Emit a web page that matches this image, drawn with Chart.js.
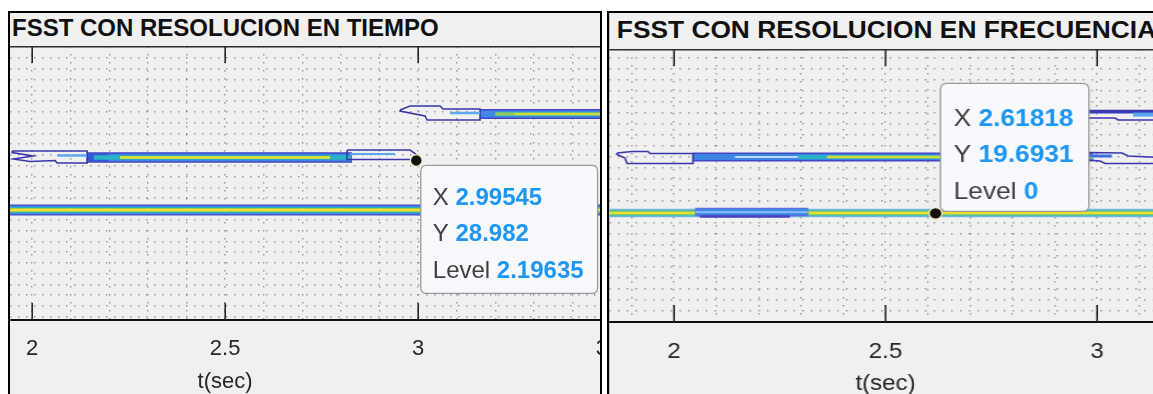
<!DOCTYPE html>
<html>
<head>
<meta charset="utf-8">
<script src="https://cdn.jsdelivr.net/npm/chart.js@4.4.1/dist/chart.umd.min.js"></script>
<style>
  html, body { margin: 0; padding: 0; background: #fff; width: 1153px; height: 394px; overflow: hidden; }
  .panel { position: absolute; background: #f0f0f0; overflow: hidden; }
  #pL { left: 8px; top: 11px; width: 590px; height: 400px; border: 2px solid #000; border-bottom: none; }
  #pR { left: 607px; top: 11px; width: 520px; height: 400px; border-left: 2px solid #000; border-top: 2px solid #000;
        transform: scaleX(1.096); transform-origin: 0 0; }
  .ttl { position: absolute; font: bold 24px/24px 'Liberation Sans', Arial, sans-serif; color: #111; white-space: nowrap; }
  canvas { position: absolute; left: 0; }
</style>
</head>
<body>
<div class="panel" id="pL">
  <div class="ttl" style="left:2px;top:3px">FSST CON RESOLUCION EN TIEMPO</div>
  <canvas id="cL" width="700" height="382" style="top:0"></canvas>
</div>
<div class="panel" id="pR">
  <div class="ttl" style="left:7px;top:5px">FSST CON RESOLUCION EN FRECUENCIA</div>
  <canvas id="cR" width="520" height="383" style="top:1px"></canvas>
</div>
<script>
// ---- axis ranges (t in seconds, f in Hz) ----
const rangeTL = [1.94301, 3.75650];
const rangeFL = [-0.6, 50.2];
const rangeTR = [1.84680, 3.19390];
const rangeFR = [0, 49.5];
const tickStepT = 0.1;
const tickStepF = 2;
const axisLabelT = 't(sec)';
const axisLabelAtT = 2.5;

// ---- left panel: ridges of the time-resolution FSST ----
const ridgeL20 = [[1.90, 19.80], [3.80, 19.80]];
const ridgeL29 = [[2.142, 29.53], [2.829, 29.53]];
const ridgeL29Head = [[2.142, 29.53], [2.197, 29.53]];
const ridgeL29Body = [[2.160, 29.53], [2.825, 29.53]];
const ridgeL29Peak = [[2.228, 29.53], [2.772, 29.53]];
const ridgeL29Fringe = [[2.065, 29.90], [2.142, 29.90]];
const ridgeL29Tail = [[2.824, 30.18], [2.940, 30.18]];
const ridgeL38 = [[3.161, 37.59], [3.80, 37.59]];
const ridgeL38Body = [[3.200, 37.59], [3.80, 37.59]];
const ridgeL38Peak = [[3.250, 37.59], [3.80, 37.59]];
const ridgeL38Fringe = [[3.083, 37.78], [3.161, 37.78]];
const contourL29Start = [[1.9482, 30.73], [2.1425, 30.73], [2.1425, 28.51], [2.0648, 28.51], [2.0596, 28.97],
                         [1.9948, 28.79], [1.9508, 29.25], [2.0026, 29.81], [1.9482, 30.46]];
const contourL29End = [[2.8161, 30.92], [2.9793, 30.92], [2.9974, 30.00], [2.9922, 28.88], [2.9793, 29.16], [2.8161, 29.16]];
const contourL38Start = [[2.9534, 38.34], [2.9793, 39.08], [3.0570, 39.08], [3.0648, 38.52], [3.1606, 38.52],
                         [3.1606, 36.48], [3.0233, 36.48], [3.0181, 37.22], [2.9534, 38.15]];
const tipL = { x: 2.99545, y: 28.982, level: 2.19635 };

// ---- right panel: ridges of the frequency-resolution FSST ----
const ridgeR20 = [[1.80, 19.76], [3.25, 19.76]];
const patchR20 = [[2.050, 19.94], [2.317, 19.94]];
const patchR20Low = [[2.061, 19.13], [2.274, 19.13]];
const ridgeR30 = [[2.045, 29.92], [2.990, 29.92]];
const ridgeR30Pale = [[2.144, 29.92], [2.293, 29.92]];
const ridgeR30Body = [[2.293, 29.92], [2.990, 29.92]];
const ridgeR30Peak = [[2.362, 29.92], [2.990, 29.92]];
const ridgeR30Tail = [[2.979, 30.10], [3.035, 30.10]];
const ridgeR38Top = [[2.9598, 38.08], [3.1489, 38.08]];
const ridgeR38Light = [[3.0850, 37.60], [3.1489, 37.60]];
const contourR30Start = [[1.8652, 30.64], [1.9007, 30.91], [1.9385, 30.91], [1.9433, 30.55], [2.0449, 30.55],
                         [2.0449, 28.74], [1.8889, 28.74], [1.8842, 29.74], [1.8652, 30.37]];
const contourR30End = [[2.9787, 30.73], [3.0591, 30.64], [3.0733, 30.10], [3.1489, 29.83],
                       [3.1489, 28.74], [3.0189, 28.74], [3.0071, 29.19], [2.9787, 29.37]];
const contourR38 = [[2.9598, 38.35], [3.1489, 38.35], [3.1489, 36.63], [3.0496, 36.63], [3.0426, 36.99], [2.9598, 36.99]];
const tipR = { x: 2.61818, y: 19.6931, level: 0 };

// ---- drawing helpers ----
const FONT = "'Liberation Sans', Arial, sans-serif";
const GRID = 'rgba(90,90,90,0.6)';
const OUTLINE = '#3a35a8';

function stroke(pts, color, width, closed) {
  const data = pts.map(p => ({ x: p[0], y: p[1] }));
  if (closed) data.push({ x: pts[0][0], y: pts[0][1] });
  return { data, borderColor: color, borderWidth: width, fill: false, pointRadius: 0, showLine: true,
           clip: 0, borderCapStyle: 'butt', borderJoinStyle: 'miter', tension: 0 };
}
function stack(list) {
  // list is bottom-to-top; higher order is painted first
  return list.map((d, i) => Object.assign(d, { order: list.length - i }));
}
const isMajor = v => Math.abs(v * 2 - Math.round(v * 2)) < 1e-6;
const fmt = v => String(Number(Number(v).toPrecision(6)));

const decor = {
  id: 'decor',
  afterDatasetsDraw(chart, args, o) {
    const { ctx, chartArea: a, scales: { x, y } } = chart;
    ctx.save();
    // axes box
    ctx.strokeStyle = '#2e2e2e'; ctx.lineWidth = 1.5;
    ctx.beginPath(); ctx.moveTo(a.left, a.top + 0.75); ctx.lineTo(a.right, a.top + 0.75); ctx.stroke();
    ctx.strokeStyle = '#111'; ctx.lineWidth = 2;
    ctx.beginPath(); ctx.moveTo(a.left, a.bottom); ctx.lineTo(a.right, a.bottom); ctx.stroke();
    // inward tick marks on the labelled ticks
    ctx.strokeStyle = '#262626'; ctx.lineWidth = 1.6;
    x.ticks.forEach(t => {
      if (!isMajor(t.value)) return;
      const px = Math.round(x.getPixelForValue(t.value)) + 0.2;
      ctx.beginPath();
      ctx.moveTo(px, a.top); ctx.lineTo(px, a.top + 17);
      ctx.moveTo(px, a.bottom - 17); ctx.lineTo(px, a.bottom);
      ctx.stroke();
    });
    // x-axis title, centred under the visible part of the time axis
    ctx.font = '22px ' + FONT; ctx.fillStyle = '#262626';
    ctx.textAlign = 'center'; ctx.textBaseline = 'middle';
    ctx.fillText(o.axisLabel, x.getPixelForValue(o.axisLabelAt), a.bottom + 62);
    // data tip
    const tip = o.tip;
    if (tip) {
      const px = x.getPixelForValue(tip.x), py = y.getPixelForValue(tip.y);
      const rows = [['X', fmt(tip.x)], ['Y', fmt(tip.y)], ['Level', fmt(tip.level)]];
      const reg = '24px ' + FONT, bold = 'bold 24px ' + FONT;
      ctx.font = reg; const sp = ctx.measureText(' ').width;
      let wmax = 0;
      const widths = rows.map(r => {
        ctx.font = reg; const wl = ctx.measureText(r[0]).width;
        ctx.font = bold; const wv = ctx.measureText(r[1]).width;
        wmax = Math.max(wmax, wl + sp + wv);
        return wl;
      });
      const w = wmax + 26, h = 128;
      const bx = px + 4.5, by = o.above ? py - 2 - h : py + 5;
      const r = 6;
      ctx.beginPath();
      ctx.moveTo(bx + r, by); ctx.lineTo(bx + w - r, by); ctx.quadraticCurveTo(bx + w, by, bx + w, by + r);
      ctx.lineTo(bx + w, by + h - r); ctx.quadraticCurveTo(bx + w, by + h, bx + w - r, by + h);
      ctx.lineTo(bx + r, by + h); ctx.quadraticCurveTo(bx, by + h, bx, by + h - r);
      ctx.lineTo(bx, by + r); ctx.quadraticCurveTo(bx, by, bx + r, by);
      ctx.closePath();
      ctx.fillStyle = '#f8f9fd'; ctx.fill();
      ctx.strokeStyle = '#9a9a9a'; ctx.lineWidth = 1.3; ctx.stroke();
      ctx.textBaseline = 'middle'; ctx.textAlign = 'left';
      const first = o.above ? 36 : 33;
      rows.forEach((row, i) => {
        const ty = by + first + i * 36.3;
        ctx.font = reg; ctx.fillStyle = '#404040'; ctx.fillText(row[0], bx + 12, ty);
        ctx.font = bold; ctx.fillStyle = '#1e96f3'; ctx.fillText(row[1], bx + 12 + widths[i] + sp, ty);
      });
      // marker
      ctx.beginPath(); ctx.arc(px, py, 6.5, 0, Math.PI * 2);
      ctx.fillStyle = '#f3edc0'; ctx.fill();
      ctx.beginPath(); ctx.arc(px, py, 5.2, 0, Math.PI * 2);
      ctx.fillStyle = '#111'; ctx.fill();
    }
    ctx.restore();
  }
};

function buildChart(id, cfg) {
  return new Chart(document.getElementById(id), {
    type: 'line',
    data: { datasets: cfg.datasets },
    options: {
      responsive: false, animation: false, devicePixelRatio: 1,
      layout: { autoPadding: false, padding: { top: cfg.padTop, left: 0, right: 0, bottom: 0 } },
      plugins: {
        legend: { display: false }, tooltip: { enabled: false },
        decor: { tip: cfg.tip, above: cfg.above, axisLabel: axisLabelT, axisLabelAt: axisLabelAtT }
      },
      scales: {
        x: {
          type: 'linear', min: cfg.rangeT[0], max: cfg.rangeT[1],
          afterFit: s => { s.height = 75; },
          grid: { color: GRID, lineWidth: 1.4, drawTicks: false },
          border: { display: false, dash: [1.4, 6.6] },
          ticks: { stepSize: tickStepT, includeBounds: false, autoSkip: false, maxRotation: 0,
                   padding: cfg.labelGap, color: '#262626',
                   font: { family: FONT, size: 22 }, callback: v => isMajor(v) ? fmt(v) : '' },
          title: { display: false }
        },
        y: {
          type: 'linear', min: cfg.rangeF[0], max: cfg.rangeF[1],
          afterFit: s => { s.width = 0; },
          grid: { color: GRID, lineWidth: 1.4, drawTicks: false },
          border: { display: false, dash: [1.4, 6.6] },
          ticks: { display: false, stepSize: tickStepF, includeBounds: false }
        }
      }
    },
    plugins: [decor]
  });
}

// ---- left chart layers ----
const leftSets = stack([
  stroke(ridgeL20, '#4b4ac2', 11), stroke(ridgeL20, '#3f86e6', 8.5), stroke(ridgeL20, '#27b2c4', 6),
  stroke(ridgeL20, '#8fc75a', 4), stroke(ridgeL20, '#ebe02b', 2.4),
  stroke(ridgeL29, '#4346c4', 10.5), stroke(ridgeL29, '#3e84e4', 7.5), stroke(ridgeL29Head, '#3458d6', 8),
  stroke(ridgeL29Body, '#29b3c6', 4.5), stroke(ridgeL29Peak, '#9bc95a', 3), stroke(ridgeL29Peak, '#ede12a', 1.8),
  stroke(ridgeL38, '#4346c4', 10), stroke(ridgeL38, '#3f88e6', 7), stroke(ridgeL38Body, '#2ab6c2', 4.2),
  stroke(ridgeL38Body, '#96c95c', 2.8), stroke(ridgeL38Peak, '#ece02b', 1.6),
  stroke(contourL29Start, OUTLINE, 1.6, true), stroke(contourL29End, OUTLINE, 1.6, true),
  stroke(contourL38Start, OUTLINE, 1.6, true),
  stroke(ridgeL29Fringe, '#5fa6f2', 2.5), stroke(ridgeL29Tail, '#5fa6f2', 2.2), stroke(ridgeL38Fringe, '#5fa6f2', 2.5)
]);

// ---- right chart layers ----
const rightSets = stack([
  stroke(ridgeR20, '#78b4ea', 8.5), stroke(ridgeR20, '#4fbfae', 6.5), stroke(ridgeR20, '#92cb66', 4),
  stroke(ridgeR20, '#e8e12c', 2.2),
  stroke(patchR20, '#5a6fe0', 8.5), stroke(patchR20, '#3f8ae6', 6), stroke(patchR20, '#8ec0f4', 1.8),
  stroke(patchR20Low, '#4b3fbf', 2.5),
  stroke(ridgeR30, '#4346c4', 9), stroke(ridgeR30, '#3e84e4', 6), stroke(ridgeR30Pale, '#b9dcff', 1.8),
  stroke(ridgeR30Body, '#28b4c6', 4), stroke(ridgeR30Peak, '#90c85e', 2.8), stroke(ridgeR30Peak, '#ece02c', 1.6),
  stroke(ridgeR30Tail, '#3d6fe0', 3), stroke(ridgeR38Top, '#3b3db8', 3.2), stroke(ridgeR38Light, '#58a8f0', 4),
  stroke(contourR30Start, OUTLINE, 1.6, true), stroke(contourR30End, OUTLINE, 1.6, true),
  stroke(contourR38, OUTLINE, 1.6, true)
]);

buildChart('cL', { datasets: leftSets, rangeT: rangeTL, rangeF: rangeFL, padTop: 33, labelGap: 16,
                   tip: tipL, above: false });
buildChart('cR', { datasets: rightSets, rangeT: rangeTR, rangeF: rangeFR, padTop: 35, labelGap: 17,
                   tip: tipR, above: true });
</script>
</body>
</html>
